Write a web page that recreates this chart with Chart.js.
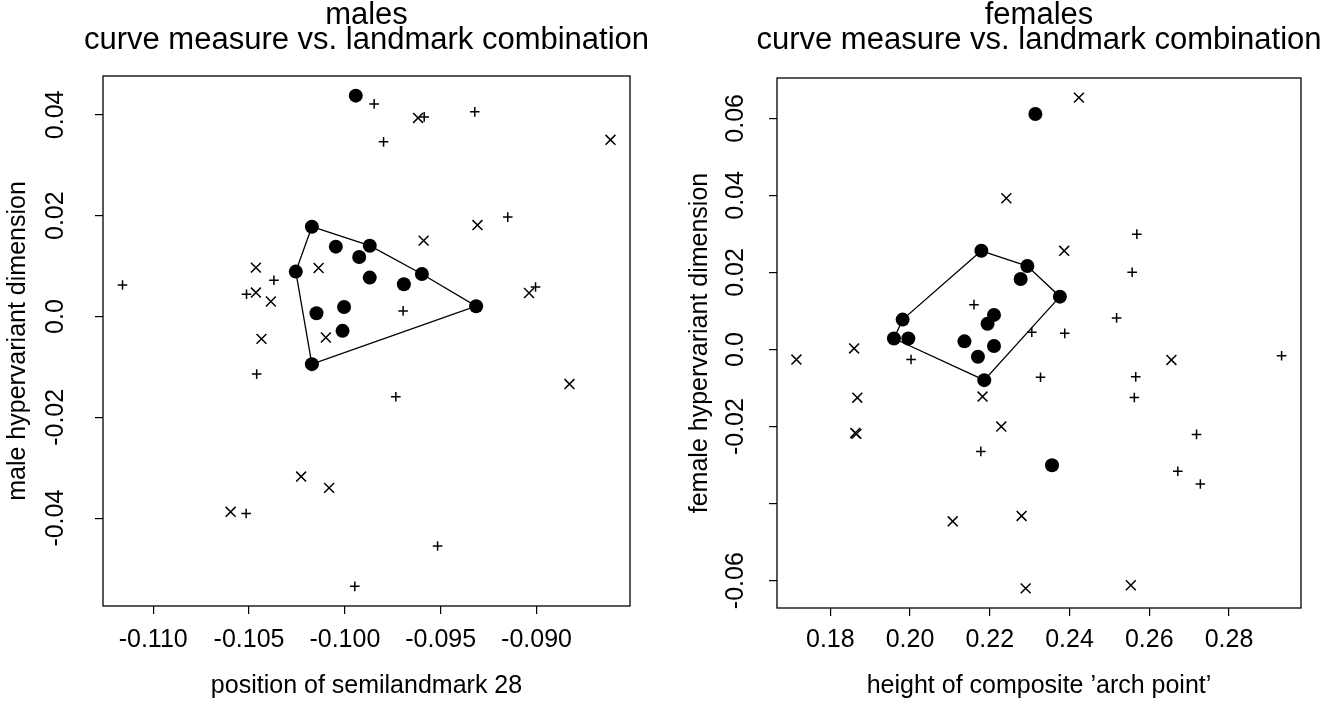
<!DOCTYPE html>
<html>
<head>
<meta charset="utf-8">
<title>curve measure vs. landmark combination</title>
<script src="https://cdn.jsdelivr.net/npm/chart.js@4/dist/chart.umd.min.js"></script>
<style>
  html, body { margin: 0; padding: 0; background: #fff; }
  #wrap { position: relative; width: 1328px; height: 704px; overflow: hidden; }
  #wrap canvas { position: absolute; top: 0; }
  #male { left: 0; }
  #female { left: 664px; }
</style>
</head>
<body>
<div id="wrap">
  <canvas id="male" width="664" height="704"></canvas>
  <canvas id="female" width="664" height="704"></canvas>
</div>
<script>
// ---- males ----
// filled dots; the hull is drawn through a subset of them (by index)
const maleDotX = [-0.09943, -0.10172, -0.10256, -0.10047, -0.09925, -0.0987, -0.0987, -0.09692, -0.09598, -0.09315, -0.10148, -0.10004, -0.10012, -0.10172];
const maleDotY = [0.04382, 0.01782, 0.00891, 0.01386, 0.0118, 0.01405, 0.00772, 0.0064, 0.00844, 0.00204, 0.00065, 0.0019, -0.00285, -0.00945];
const maleHull = [1, 5, 8, 9, 13, 2, 1];
const malePlusX = [-0.1116, -0.1037, -0.10513, -0.1046, -0.10515, -0.09948, -0.09847, -0.09586, -0.09322, -0.09798, -0.0915, -0.09696, -0.09005, -0.09734, -0.09516];
const malePlusY = [0.00626, 0.00719, 0.00442, -0.01143, -0.03909, -0.05354, 0.04218, 0.0396, 0.0406, 0.03465, 0.01972, 0.00111, 0.00586, -0.01592, -0.04554];
const maleCrossX = [-0.10464, -0.10464, -0.10386, -0.10137, -0.10099, -0.10435, -0.10228, -0.10082, -0.10596, -0.09618, -0.08614, -0.09308, -0.09589, -0.09039, -0.08828];
const maleCrossY = [0.0097, 0.00475, 0.00297, 0.00962, -0.00416, -0.00444, -0.03176, -0.034, -0.03875, 0.0394, 0.03505, 0.01814, 0.01505, 0.00467, -0.0134];
const maleXTicks = [-0.110, -0.105, -0.100, -0.095, -0.090];
const maleXLabels = ['-0.110', '-0.105', '-0.100', '-0.095', '-0.090'];
const maleYTicks = [-0.04, -0.02, 0, 0.02, 0.04];
const maleYLabels = ['-0.04', '-0.02', '0.0', '0.02', '0.04'];

// ---- females ----
const femaleDotX = [0.23143, 0.21788, 0.22942, 0.22774, 0.23758, 0.22105, 0.21944, 0.19814, 0.19596, 0.19957, 0.21364, 0.21703, 0.22105, 0.21861, 0.2356];
const femaleDotY = [0.06115, 0.02562, 0.02166, 0.0183, 0.01372, 0.00898, 0.00667, 0.00776, 0.00285, 0.00285, 0.00212, -0.00189, 0.00093, -0.00795, -0.03005];
const femaleHull = [1, 2, 4, 13, 8, 7, 1];
const femalePlusX = [0.21603, 0.23053, 0.2388, 0.23272, 0.20025, 0.21775, 0.25688, 0.2557, 0.2518, 0.29318, 0.2566, 0.25625, 0.27185, 0.26715, 0.27281];
const femalePlusY = [0.01165, 0.0045, 0.0042, -0.0072, -0.0026, -0.02645, 0.02995, 0.02004, 0.0082, -0.00163, -0.0071, -0.01247, -0.02204, -0.0316, -0.03492];
const femaleCrossX = [0.24235, 0.22415, 0.23866, 0.26555, 0.1715, 0.18597, 0.18678, 0.18625, 0.18655, 0.21818, 0.22288, 0.2107, 0.22797, 0.229, 0.25537];
const femaleCrossY = [0.06538, 0.03926, 0.02562, -0.0027, -0.00261, 0.00028, -0.0125, -0.02165, -0.0219, -0.01222, -0.02, -0.0446, -0.0432, -0.062, -0.0612];
const femaleXTicks = [0.18, 0.20, 0.22, 0.24, 0.26, 0.28];
const femaleXLabels = ['0.18', '0.20', '0.22', '0.24', '0.26', '0.28'];
const femaleYTicks = [-0.06, -0.04, -0.02, 0, 0.02, 0.04, 0.06];
const femaleYLabels = ['-0.06', '', '-0.02', '0.0', '0.02', '0.04', '0.06'];

const FONT = '"Liberation Sans", Arial, Helvetica, sans-serif';

const pts = (xs, ys) => xs.map((x, i) => ({ x, y: ys[i] }));

// data range padded by 4% on each side
function padRange(vals) {
  const lo = Math.min(...vals), hi = Math.max(...vals);
  const d = (hi - lo) * 0.04;
  return [lo - d, hi + d];
}

// box, tick labels (y ones turned on their side) and titles
function frame(p) {
  return {
    id: 'frame',
    afterDraw(chart) {
      const { ctx, chartArea: a, scales: { x, y } } = chart;
      const cx = (a.left + a.right) / 2, cy = (a.top + a.bottom) / 2;
      ctx.save();
      ctx.strokeStyle = '#000';
      ctx.lineWidth = 1.3;
      ctx.strokeRect(a.left, a.top, a.right - a.left, a.bottom - a.top);

      ctx.fillStyle = '#000';
      ctx.textAlign = 'center';
      ctx.textBaseline = 'middle';
      ctx.font = '25px ' + FONT;
      p.xTicks.forEach((v, i) => ctx.fillText(p.xLabels[i], x.getPixelForValue(v), p.xLabelY));
      p.yTicks.forEach((v, i) => {
        ctx.save();
        ctx.translate(p.yLabelX, y.getPixelForValue(v));
        ctx.rotate(-Math.PI / 2);
        ctx.fillText(p.yLabels[i], 0, 0);
        ctx.restore();
      });
      ctx.fillText(p.xTitle, cx, p.xTitleY);
      ctx.save();
      ctx.translate(p.yTitleX, cy);
      ctx.rotate(-Math.PI / 2);
      ctx.fillText(p.yTitle, 0, 0);
      ctx.restore();

      ctx.font = '31px ' + FONT;
      ctx.textBaseline = 'alphabetic';
      p.title.forEach((t, i) => ctx.fillText(t, cx, p.titleY[i]));
      ctx.restore();
    }
  };
}

function panel(canvasId, p) {
  const [xMin, xMax] = padRange([...p.dotX, ...p.plusX, ...p.crossX]);
  const [yMin, yMax] = padRange([...p.dotY, ...p.plusY, ...p.crossY]);
  const tickGrid = { display: true, drawOnChartArea: false, drawTicks: true, tickLength: 8, color: '#000', lineWidth: 1.2 };

  return new Chart(document.getElementById(canvasId), {
    type: 'scatter',
    data: {
      datasets: [
        { data: p.hull.map(i => ({ x: p.dotX[i], y: p.dotY[i] })), showLine: true, pointRadius: 0,
          borderColor: '#000', borderWidth: 1.3, fill: false },
        { data: pts(p.dotX, p.dotY), pointStyle: 'circle', pointRadius: 7,
          backgroundColor: '#000', borderColor: '#000', borderWidth: 0 },
        { data: pts(p.plusX, p.plusY), pointStyle: 'cross', pointRadius: 4.8,
          borderColor: '#000', borderWidth: 1.5 },
        { data: pts(p.crossX, p.crossY), pointStyle: 'crossRot', pointRadius: 7,
          borderColor: '#000', borderWidth: 1.5 }
      ]
    },
    options: {
      responsive: false,
      animation: false,
      events: [],
      layout: { padding: { left: 0, right: p.padRight, top: p.padTop, bottom: 0 } },
      plugins: { legend: { display: false }, tooltip: { enabled: false } },
      scales: {
        x: {
          type: 'linear', position: 'bottom', min: xMin, max: xMax,
          afterBuildTicks: s => { s.ticks = p.xTicks.map(v => ({ value: v })); },
          afterFit: s => { s.height = p.xAxisH; },
          grid: tickGrid, border: { display: false }, ticks: { display: false }
        },
        y: {
          type: 'linear', position: 'left', min: yMin, max: yMax,
          afterBuildTicks: s => { s.ticks = p.yTicks.map(v => ({ value: v })); },
          afterFit: s => { s.width = p.yAxisW; },
          grid: tickGrid, border: { display: false }, ticks: { display: false }
        }
      }
    },
    plugins: [frame(p)]
  });
}

panel('male', {
  dotX: maleDotX, dotY: maleDotY, hull: maleHull,
  plusX: malePlusX, plusY: malePlusY, crossX: maleCrossX, crossY: maleCrossY,
  xTicks: maleXTicks, xLabels: maleXLabels, yTicks: maleYTicks, yLabels: maleYLabels,
  title: ['males', 'curve measure vs. landmark combination'],
  xTitle: 'position of semilandmark 28', yTitle: 'male hypervariant dimension',
  yAxisW: 103, xAxisH: 98, padRight: 34, padTop: 76,
  titleY: [24, 49], xLabelY: 640, xTitleY: 686, yLabelX: 56, yTitleX: 18
});

panel('female', {
  dotX: femaleDotX, dotY: femaleDotY, hull: femaleHull,
  plusX: femalePlusX, plusY: femalePlusY, crossX: femaleCrossX, crossY: femaleCrossY,
  xTicks: femaleXTicks, xLabels: femaleXLabels, yTicks: femaleYTicks, yLabels: femaleYLabels,
  title: ['females', 'curve measure vs. landmark combination'],
  xTitle: 'height of composite \u2019arch point\u2019', yTitle: 'female hypervariant dimension',
  yAxisW: 113, xAxisH: 96, padRight: 27, padTop: 78,
  titleY: [24, 49], xLabelY: 640, xTitleY: 686, yLabelX: 72, yTitleX: 36
});
</script>
</body>
</html>
